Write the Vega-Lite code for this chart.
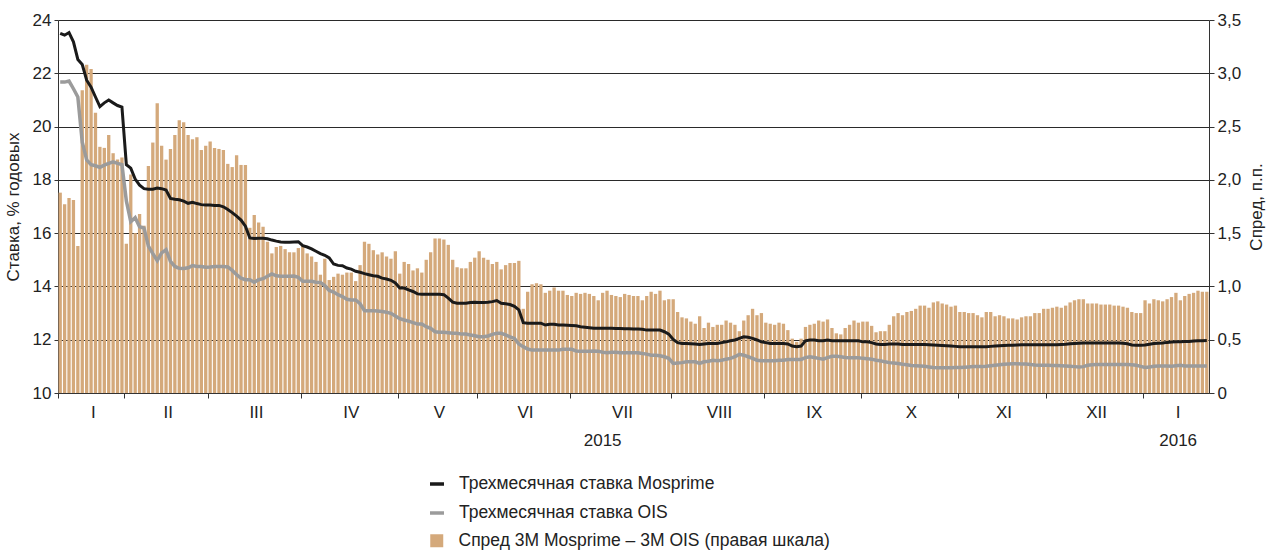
{
"$schema": "https://vega.github.io/schema/vega-lite/v6.json",
"autosize": {"type": "none"},
"width": 1151, "height": 373,
"padding": {"left": 58, "top": 20, "right": 68, "bottom": 158},
"background": "white",
"config": {"font": "Liberation Sans", "view": {"stroke": null},
 "axis": {"labelFont": "Liberation Sans", "titleFont": "Liberation Sans", "labelFontSize": 17, "titleFontSize": 17, "titleFontWeight": "normal", "labelColor": "#222", "titleColor": "#222", "domainColor": "#333", "tickColor": "#333"},
 "legend": {"labelFont": "Liberation Sans", "labelFontSize": 17.5, "labelColor": "#222", "labelLimit": 0}},
"data": {"values": [
{"i":0,"m":23.50,"o":21.67,"s":1.88},{"i":1,"m":23.43,"o":21.67,"s":1.77},{"i":2,"m":23.53,"o":21.71,"s":1.83},{"i":3,"m":23.18,"o":21.42,"s":1.81},{"i":4,"m":22.52,"o":21.11,"s":1.38},{"i":5,"m":22.33,"o":19.41,"s":2.84},{"i":6,"m":21.74,"o":18.75,"s":3.08},{"i":7,"m":21.48,"o":18.57,"s":3.04},{"i":8,"m":21.11,"o":18.53,"s":2.63},{"i":9,"m":20.75,"o":18.47,"s":2.31},{"i":10,"m":20.89,"o":18.55,"s":2.30},{"i":11,"m":21.00,"o":18.62,"s":2.42},{"i":12,"m":20.89,"o":18.68,"s":2.25},{"i":13,"m":20.79,"o":18.62,"s":2.19},{"i":14,"m":20.73,"o":18.57,"s":2.21},
{"i":15,"m":18.57,"o":17.21,"s":1.40},{"i":16,"m":18.44,"o":16.43,"s":2.05},{"i":17,"m":18.03,"o":16.58,"s":1.50},{"i":18,"m":17.80,"o":16.24,"s":1.68},{"i":19,"m":17.67,"o":16.19,"s":1.57},{"i":20,"m":17.65,"o":15.51,"s":2.13},{"i":21,"m":17.65,"o":15.23,"s":2.35},{"i":22,"m":17.69,"o":14.97,"s":2.72},{"i":23,"m":17.67,"o":15.26,"s":2.32},{"i":24,"m":17.62,"o":15.38,"s":2.19},{"i":25,"m":17.30,"o":14.94,"s":2.29},{"i":26,"m":17.27,"o":14.75,"s":2.42},{"i":27,"m":17.25,"o":14.68,"s":2.56},{"i":28,"m":17.20,"o":14.67,"s":2.54},{"i":29,"m":17.12,"o":14.70,"s":2.42},{"i":30,"m":17.16,"o":14.78,"s":2.38},{"i":31,"m":17.11,"o":14.75,"s":2.40},{"i":32,"m":17.07,"o":14.75,"s":2.28},{"i":33,"m":17.06,"o":14.72,"s":2.32},
{"i":34,"m":17.06,"o":14.73,"s":2.36},{"i":35,"m":17.04,"o":14.75,"s":2.30},{"i":36,"m":17.04,"o":14.75,"s":2.29},{"i":37,"m":16.99,"o":14.75,"s":2.28},{"i":38,"m":16.89,"o":14.73,"s":2.15},{"i":39,"m":16.77,"o":14.60,"s":2.12},{"i":40,"m":16.64,"o":14.44,"s":2.23},{"i":41,"m":16.49,"o":14.31,"s":2.14},{"i":42,"m":16.26,"o":14.25,"s":2.14},{"i":43,"m":15.82,"o":14.25,"s":1.55},{"i":44,"m":15.80,"o":14.16,"s":1.67},{"i":45,"m":15.81,"o":14.25,"s":1.60},{"i":46,"m":15.81,"o":14.29,"s":1.56},{"i":47,"m":15.79,"o":14.38,"s":1.42},{"i":48,"m":15.74,"o":14.47,"s":1.31},{"i":49,"m":15.70,"o":14.40,"s":1.37},{"i":50,"m":15.67,"o":14.38,"s":1.38},{"i":51,"m":15.66,"o":14.38,"s":1.35},{"i":52,"m":15.66,"o":14.38,"s":1.32},{"i":53,"m":15.67,"o":14.39,"s":1.32},{"i":54,"m":15.68,"o":14.34,"s":1.36},
{"i":55,"m":15.53,"o":14.19,"s":1.38},{"i":56,"m":15.48,"o":14.19,"s":1.31},{"i":57,"m":15.41,"o":14.19,"s":1.28},{"i":58,"m":15.32,"o":14.16,"s":1.23},{"i":59,"m":15.23,"o":14.15,"s":1.11},{"i":60,"m":15.17,"o":14.03,"s":1.26},{"i":61,"m":15.07,"o":13.85,"s":1.06},{"i":62,"m":14.84,"o":13.79,"s":1.09},{"i":63,"m":14.79,"o":13.69,"s":1.12},{"i":64,"m":14.78,"o":13.62,"s":1.11},{"i":65,"m":14.69,"o":13.52,"s":1.13},{"i":66,"m":14.65,"o":13.49,"s":1.13},{"i":67,"m":14.57,"o":13.49,"s":1.05},{"i":68,"m":14.53,"o":13.35,"s":1.20},{"i":69,"m":14.48,"o":13.09,"s":1.42},{"i":70,"m":14.44,"o":13.09,"s":1.40},{"i":71,"m":14.40,"o":13.09,"s":1.34},{"i":72,"m":14.38,"o":13.08,"s":1.30},{"i":73,"m":14.31,"o":13.06,"s":1.32},{"i":74,"m":14.28,"o":13.03,"s":1.28},{"i":75,"m":14.23,"o":12.99,"s":1.26},{"i":76,"m":14.13,"o":12.89,"s":1.33},
{"i":77,"m":13.94,"o":12.79,"s":1.12},{"i":78,"m":13.94,"o":12.74,"s":1.23},{"i":79,"m":13.87,"o":12.70,"s":1.21},{"i":80,"m":13.81,"o":12.64,"s":1.15},{"i":81,"m":13.72,"o":12.59,"s":1.17},{"i":82,"m":13.71,"o":12.59,"s":1.13},{"i":83,"m":13.71,"o":12.49,"s":1.25},{"i":84,"m":13.71,"o":12.43,"s":1.32},{"i":85,"m":13.71,"o":12.30,"s":1.45},{"i":86,"m":13.71,"o":12.28,"s":1.45},{"i":87,"m":13.69,"o":12.28,"s":1.44},{"i":88,"m":13.56,"o":12.26,"s":1.39},{"i":89,"m":13.41,"o":12.24,"s":1.25},{"i":90,"m":13.37,"o":12.24,"s":1.18},{"i":91,"m":13.37,"o":12.21,"s":1.17},{"i":92,"m":13.37,"o":12.21,"s":1.17},{"i":93,"m":13.40,"o":12.18,"s":1.23},{"i":94,"m":13.41,"o":12.15,"s":1.27},
{"i":95,"m":13.40,"o":12.11,"s":1.33},{"i":96,"m":13.40,"o":12.11,"s":1.27},{"i":97,"m":13.41,"o":12.14,"s":1.25},{"i":98,"m":13.43,"o":12.20,"s":1.21},{"i":99,"m":13.47,"o":12.24,"s":1.23},{"i":100,"m":13.37,"o":12.24,"s":1.16},{"i":101,"m":13.35,"o":12.18,"s":1.20},{"i":102,"m":13.32,"o":12.11,"s":1.22},{"i":103,"m":13.25,"o":12.05,"s":1.22},{"i":104,"m":13.12,"o":11.84,"s":1.24},{"i":105,"m":12.64,"o":11.74,"s":0.79},{"i":106,"m":12.62,"o":11.65,"s":0.95},{"i":107,"m":12.62,"o":11.61,"s":1.02},{"i":108,"m":12.62,"o":11.61,"s":1.03},{"i":109,"m":12.62,"o":11.61,"s":1.02},{"i":110,"m":12.55,"o":11.61,"s":0.94},{"i":111,"m":12.58,"o":11.61,"s":0.96},{"i":112,"m":12.58,"o":11.61,"s":0.99},{"i":113,"m":12.55,"o":11.61,"s":0.96},{"i":114,"m":12.55,"o":11.64,"s":0.96},{"i":115,"m":12.54,"o":11.64,"s":0.92},
{"i":116,"m":12.53,"o":11.64,"s":0.91},{"i":117,"m":12.52,"o":11.58,"s":0.94},{"i":118,"m":12.49,"o":11.57,"s":0.93},{"i":119,"m":12.47,"o":11.57,"s":0.94},{"i":120,"m":12.45,"o":11.57,"s":0.93},{"i":121,"m":12.43,"o":11.58,"s":0.91},{"i":122,"m":12.43,"o":11.57,"s":0.87},{"i":123,"m":12.43,"o":11.53,"s":0.94},{"i":124,"m":12.43,"o":11.51,"s":0.96},{"i":125,"m":12.43,"o":11.53,"s":0.92},{"i":126,"m":12.42,"o":11.53,"s":0.91},{"i":127,"m":12.42,"o":11.51,"s":0.90},{"i":128,"m":12.41,"o":11.51,"s":0.93},{"i":129,"m":12.41,"o":11.51,"s":0.92},{"i":130,"m":12.40,"o":11.51,"s":0.91},{"i":131,"m":12.40,"o":11.51,"s":0.91},{"i":132,"m":12.39,"o":11.48,"s":0.87},{"i":133,"m":12.36,"o":11.46,"s":0.91},{"i":134,"m":12.36,"o":11.42,"s":0.95},{"i":135,"m":12.36,"o":11.42,"s":0.93},{"i":136,"m":12.36,"o":11.40,"s":0.96},{"i":137,"m":12.30,"o":11.36,"s":0.87},{"i":138,"m":12.21,"o":11.30,"s":0.88},
{"i":139,"m":12.01,"o":11.11,"s":0.88},{"i":140,"m":11.89,"o":11.13,"s":0.76},{"i":141,"m":11.86,"o":11.14,"s":0.71},{"i":142,"m":11.86,"o":11.17,"s":0.70},{"i":143,"m":11.85,"o":11.17,"s":0.67},{"i":144,"m":11.84,"o":11.17,"s":0.65},{"i":145,"m":11.82,"o":11.11,"s":0.72},{"i":146,"m":11.84,"o":11.17,"s":0.61},{"i":147,"m":11.86,"o":11.19,"s":0.66},{"i":148,"m":11.86,"o":11.23,"s":0.62},{"i":149,"m":11.86,"o":11.21,"s":0.64},{"i":150,"m":11.89,"o":11.23,"s":0.64},{"i":151,"m":11.92,"o":11.27,"s":0.68},{"i":152,"m":11.96,"o":11.30,"s":0.66},{"i":153,"m":11.99,"o":11.36,"s":0.64},{"i":154,"m":12.05,"o":11.45,"s":0.58},{"i":155,"m":12.11,"o":11.42,"s":0.68},{"i":156,"m":12.09,"o":11.36,"s":0.73},{"i":157,"m":12.05,"o":11.30,"s":0.79},{"i":158,"m":11.99,"o":11.23,"s":0.73},{"i":159,"m":11.92,"o":11.21,"s":0.75},
{"i":160,"m":11.89,"o":11.21,"s":0.66},{"i":161,"m":11.86,"o":11.21,"s":0.65},{"i":162,"m":11.86,"o":11.21,"s":0.64},{"i":163,"m":11.86,"o":11.23,"s":0.66},{"i":164,"m":11.86,"o":11.23,"s":0.65},{"i":165,"m":11.84,"o":11.26,"s":0.59},{"i":166,"m":11.76,"o":11.26,"s":0.51},{"i":167,"m":11.74,"o":11.26,"s":0.48},{"i":168,"m":11.76,"o":11.26,"s":0.51},{"i":169,"m":11.96,"o":11.33,"s":0.62},{"i":170,"m":11.99,"o":11.36,"s":0.64},{"i":171,"m":11.99,"o":11.33,"s":0.65},{"i":172,"m":11.96,"o":11.30,"s":0.68},{"i":173,"m":11.96,"o":11.27,"s":0.67},{"i":174,"m":11.99,"o":11.33,"s":0.69},{"i":175,"m":11.96,"o":11.38,"s":0.61},{"i":176,"m":11.96,"o":11.38,"s":0.56},{"i":177,"m":11.96,"o":11.36,"s":0.55},{"i":178,"m":11.96,"o":11.33,"s":0.61},{"i":179,"m":11.96,"o":11.32,"s":0.64},{"i":180,"m":11.96,"o":11.32,"s":0.68},{"i":181,"m":11.96,"o":11.32,"s":0.66},
{"i":182,"m":11.92,"o":11.30,"s":0.67},{"i":183,"m":11.92,"o":11.29,"s":0.67},{"i":184,"m":11.89,"o":11.27,"s":0.63},{"i":185,"m":11.84,"o":11.23,"s":0.57},{"i":186,"m":11.82,"o":11.21,"s":0.58},{"i":187,"m":11.82,"o":11.17,"s":0.58},{"i":188,"m":11.84,"o":11.14,"s":0.64},{"i":189,"m":11.84,"o":11.13,"s":0.72},{"i":190,"m":11.84,"o":11.11,"s":0.75},{"i":191,"m":11.82,"o":11.08,"s":0.73},{"i":192,"m":11.82,"o":11.06,"s":0.76},{"i":193,"m":11.82,"o":11.03,"s":0.77},{"i":194,"m":11.82,"o":11.02,"s":0.79},{"i":195,"m":11.82,"o":11.01,"s":0.82},{"i":196,"m":11.82,"o":11.00,"s":0.82},{"i":197,"m":11.81,"o":10.98,"s":0.80},{"i":198,"m":11.80,"o":10.96,"s":0.85},{"i":199,"m":11.79,"o":10.95,"s":0.86},{"i":200,"m":11.78,"o":10.95,"s":0.84},{"i":201,"m":11.77,"o":10.95,"s":0.83},{"i":202,"m":11.76,"o":10.95,"s":0.81},{"i":203,"m":11.75,"o":10.96,"s":0.82},
{"i":204,"m":11.74,"o":10.96,"s":0.76},{"i":205,"m":11.74,"o":10.97,"s":0.76},{"i":206,"m":11.74,"o":10.98,"s":0.75},{"i":207,"m":11.74,"o":10.99,"s":0.75},{"i":208,"m":11.74,"o":10.99,"s":0.73},{"i":209,"m":11.74,"o":10.99,"s":0.71},{"i":210,"m":11.74,"o":11.00,"s":0.76},{"i":211,"m":11.75,"o":11.02,"s":0.76},{"i":212,"m":11.76,"o":11.04,"s":0.72},{"i":213,"m":11.77,"o":11.06,"s":0.73},{"i":214,"m":11.78,"o":11.08,"s":0.72},{"i":215,"m":11.79,"o":11.09,"s":0.70},{"i":216,"m":11.79,"o":11.10,"s":0.70},{"i":217,"m":11.80,"o":11.10,"s":0.69},{"i":218,"m":11.81,"o":11.09,"s":0.71},{"i":219,"m":11.81,"o":11.09,"s":0.72},{"i":220,"m":11.81,"o":11.07,"s":0.72},{"i":221,"m":11.81,"o":11.05,"s":0.75},{"i":222,"m":11.81,"o":11.04,"s":0.75},{"i":223,"m":11.81,"o":11.04,"s":0.79},
{"i":224,"m":11.81,"o":11.04,"s":0.79},{"i":225,"m":11.81,"o":11.03,"s":0.80},{"i":226,"m":11.81,"o":11.03,"s":0.81},{"i":227,"m":11.82,"o":11.02,"s":0.80},{"i":228,"m":11.83,"o":11.01,"s":0.82},{"i":229,"m":11.85,"o":11.00,"s":0.85},{"i":230,"m":11.86,"o":10.99,"s":0.87},{"i":231,"m":11.87,"o":10.98,"s":0.88},{"i":232,"m":11.88,"o":10.99,"s":0.88},{"i":233,"m":11.88,"o":11.04,"s":0.84},{"i":234,"m":11.88,"o":11.06,"s":0.84},{"i":235,"m":11.88,"o":11.07,"s":0.84},{"i":236,"m":11.88,"o":11.07,"s":0.83},{"i":237,"m":11.88,"o":11.07,"s":0.83},{"i":238,"m":11.88,"o":11.07,"s":0.83},{"i":239,"m":11.88,"o":11.07,"s":0.82},{"i":240,"m":11.88,"o":11.07,"s":0.82},{"i":241,"m":11.87,"o":11.07,"s":0.81},{"i":242,"m":11.85,"o":11.07,"s":0.80},{"i":243,"m":11.80,"o":11.06,"s":0.76},{"i":244,"m":11.79,"o":11.04,"s":0.75},{"i":245,"m":11.79,"o":11.00,"s":0.75},
{"i":246,"m":11.80,"o":10.96,"s":0.87},{"i":247,"m":11.83,"o":10.98,"s":0.84},{"i":248,"m":11.86,"o":11.00,"s":0.88},{"i":249,"m":11.87,"o":11.01,"s":0.87},{"i":250,"m":11.88,"o":11.01,"s":0.86},{"i":251,"m":11.90,"o":11.01,"s":0.88},{"i":252,"m":11.91,"o":11.00,"s":0.90},{"i":253,"m":11.92,"o":11.02,"s":0.94},{"i":254,"m":11.92,"o":11.04,"s":0.87},{"i":255,"m":11.93,"o":11.01,"s":0.91},{"i":256,"m":11.93,"o":11.01,"s":0.93},{"i":257,"m":11.95,"o":11.01,"s":0.94},{"i":258,"m":11.96,"o":11.01,"s":0.96},{"i":259,"m":11.96,"o":11.01,"s":0.95},{"i":260,"m":11.97,"o":11.01,"s":0.95}
]},
"encoding": {
 "x": {"field": "i", "type": "ordinal", "title": null,
  "scale": {"paddingInner": 0.25, "paddingOuter": 0.125},
  "axis": {"values": [0,8,15,25,34,45,55,66,77,86,95,106,116,123,128,139,150,160,171,182,193,204,214,224,235,246,254],
   "bandPosition": 0, "labelAngle": 0, "ticks": true, "tickSize": 5, "tickWidth": 1, "grid": false,
   "domainWidth": 1, "labelPadding": 6, "labelBaseline": "top", "labelLineHeight": 28,
   "labelOverlap": false, "labelBound": false, "labelFlush": false,
   "tickOpacity": {"condition": {"test": "indexof([0,15,34,55,77,95,116,139,160,182,204,224,246], datum.value) >= 0", "value": 1}, "value": 0},
   "labelOffset": {"condition": {"test": "indexof([8,25,45,106,128,150,254], datum.value) >= 0", "value": -2.2}, "value": 0},
   "labelExpr": "indexof([8,25,45,66,86,106,128,150,171,193,214,235], datum.value) >= 0 ? ['I','II','III','IV','V','VI','VII','VIII','IX','X','XI','XII'][indexof([8,25,45,66,86,106,128,150,171,193,214,235], datum.value)] : (datum.value == 123 ? ['', '2015'] : (datum.value == 254 ? ['I', '2016'] : ''))"}}
},
"layer": [
 {"mark": {"type": "bar"},
  "encoding": {
   "y": {"field": "s", "type": "quantitative", "title": "Спред, п.п.",
    "scale": {"domain": [0, 3.5], "nice": false, "zero": true},
    "axis": {"orient": "right", "values": [0,0.5,1,1.5,2,2.5,3,3.5], "grid": false, "tickSize": 5, "labelPadding": 3,
     "labelExpr": "datum.value == 0 ? '0' : replace(format(datum.value, '.1f'), '.', ',')",
     "titleAngle": 270, "titleBaseline": "top", "titlePadding": 8}},
   "fill": {"datum": "s", "scale": {"domain": ["s"], "range": ["#d4a97b"]},
    "legend": {"orient": "none", "legendX": 370, "legendY": 512, "title": null, "padding": 0,
     "symbolType": "square", "symbolSize": 169, "symbolStrokeWidth": 0, "labelOffset": 13, "labelLimit": 0,
     "labelExpr": "'Спред 3М Mosprime – 3М OIS (правая шкала)'"}}
  }},
 {"layer": [
  {"mark": {"type": "line", "strokeWidth": 3.5},
   "encoding": {
    "y": {"field": "o", "type": "quantitative", "title": "Ставка, % годовых",
     "scale": {"domain": [10, 24], "nice": false, "zero": false},
     "axis": {"orient": "left", "values": [10,12,14,16,18,20,22,24], "grid": true, "gridColor": "#2a2a2a", "gridWidth": 1, "tickSize": 4, "labelPadding": 3, "titlePadding": 10}},
    "stroke": {"datum": "o", "scale": {"domain": ["m", "o"], "range": ["#1a1a1a", "#9b9b9b"]},
     "legend": {"orient": "none", "legendX": 370, "legendY": 455, "title": null, "padding": 0, "direction": "vertical",
      "symbolType": "stroke", "symbolSize": 196, "symbolStrokeWidth": 3.5, "labelOffset": 13, "rowPadding": 11, "labelLimit": 0,
      "labelExpr": "datum.value == 'm' ? 'Трехмесячная ставка Mosprime' : 'Трехмесячная ставка OIS'"}}
   }},
  {"mark": {"type": "line", "strokeWidth": 3},
   "encoding": {
    "y": {"field": "m", "type": "quantitative"},
    "stroke": {"datum": "m"}
   }}
 ]}
],
"resolve": {"scale": {"y": "independent"}}
}
